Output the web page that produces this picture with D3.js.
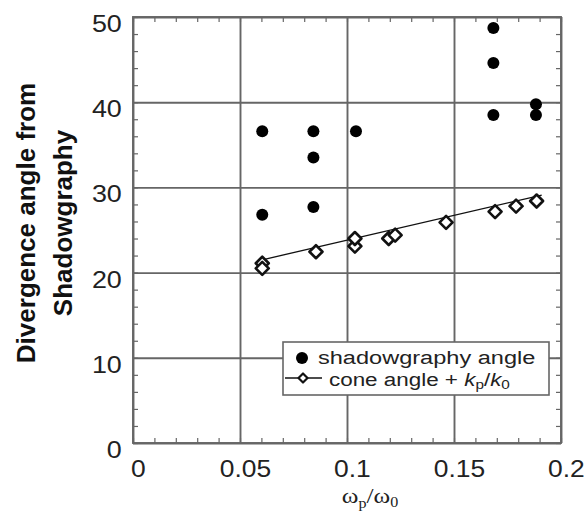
<!DOCTYPE html>
<html>
<head>
<meta charset="utf-8">
<script src="https://cdn.jsdelivr.net/npm/d3@7"></script>
<style>
  body { margin: 0; background: #fff; }
  svg { display: block; }
</style>
</head>
<body>
<svg id="chart" width="584" height="514"></svg>
<script>
// Axis ticks and labels
const xTicks = [0, 0.05, 0.1, 0.15, 0.2];
const xTickLabels = ["0", "0.05", "0.1", "0.15", "0.2"];
const yTicks = [0, 10, 20, 30, 40, 50];
const yTickLabels = ["0", "10", "20", "30", "40", "50"];

// Shadowgraphy angle measurements (filled circles)
const shadowX = [0.0604, 0.0843, 0.0843, 0.1042, 0.1684, 0.1684, 0.1684, 0.1883, 0.1883, 0.0604, 0.0843];
const shadowY = [36.6, 36.6, 33.5, 36.6, 48.7, 44.6, 38.5, 39.75, 38.5, 26.8, 27.7];

// Cone angle + kp/k0 (open diamonds)
const coneX = [0.0604, 0.0604, 0.0855, 0.1037, 0.1037, 0.1195, 0.1225, 0.1463, 0.1692, 0.179, 0.1886];
const coneY = [21.1, 20.5, 22.45, 23.1, 24.0, 24.0, 24.4, 25.9, 27.15, 27.8, 28.4];

// Straight-line fit through the cone-angle points
const fitX = [0.0604, 0.191];
const fitY = [21.5, 29.1];

const legendLabels = ["shadowgraphy angle", "cone angle + "];

const svg = d3.select("#chart");
const plotL = 133, plotR = 561, plotT = 17, plotB = 443;
const gridColor = "#666";

const x = d3.scaleLinear().domain([0, 0.2]).range([plotL, plotR]);
const y = d3.scaleLinear().domain([0, 50]).range([plotB, plotT]);

// Major grid + tick labels along x
const xAxis = svg.append("g")
  .attr("transform", `translate(0,${plotB})`)
  .call(d3.axisBottom(x).tickValues(xTicks)
    .tickFormat((d, i) => xTickLabels[i])
    .tickSize(-(plotB - plotT)));
xAxis.select(".domain").remove();
xAxis.selectAll(".tick line").attr("stroke", gridColor).attr("stroke-width", 1.9);
xAxis.selectAll(".tick text")
  .attr("y", 34.5).attr("dy", null).attr("x", 4.5)
  .attr("transform", "scale(1.1,1)")
  .attr("fill", "#222")
  .style("font-family", "'Liberation Sans', Arial, sans-serif")
  .style("font-size", "24px");

// Major grid + tick labels along y
const yAxis = svg.append("g")
  .attr("transform", `translate(${plotL},0)`)
  .call(d3.axisLeft(y).tickValues(yTicks)
    .tickFormat((d, i) => yTickLabels[i])
    .tickSize(-(plotR - plotL)));
yAxis.select(".domain").remove();
yAxis.selectAll(".tick line").attr("stroke", gridColor).attr("stroke-width", 1.9);
yAxis.selectAll(".tick text")
  .attr("x", -10).attr("y", 14.5).attr("dy", null)
  .attr("text-anchor", "end")
  .attr("transform", "scale(1.12,1)")
  .attr("fill", "#222")
  .style("font-family", "'Liberation Sans', Arial, sans-serif")
  .style("font-size", "24px");

// Plot frame
svg.append("rect")
  .attr("x", plotL).attr("y", plotT)
  .attr("width", plotR - plotL).attr("height", plotB - plotT)
  .attr("fill", "none").attr("stroke", gridColor).attr("stroke-width", 1.9);

// Inward minor ticks on all four sides
const xMinor = d3.range(0, 0.2001, 0.01);
const yMinor = d3.range(0, 50.01, 2);
const minorLen = -5;
function styleMinor(g) {
  g.select(".domain").remove();
  g.selectAll("text").remove();
  g.selectAll(".tick line").attr("stroke", gridColor).attr("stroke-width", 1.2);
}
svg.append("g").attr("transform", `translate(0,${plotB})`)
  .call(d3.axisBottom(x).tickValues(xMinor).tickSize(minorLen)).call(styleMinor);
svg.append("g").attr("transform", `translate(0,${plotT})`)
  .call(d3.axisTop(x).tickValues(xMinor).tickSize(minorLen)).call(styleMinor);
svg.append("g").attr("transform", `translate(${plotL},0)`)
  .call(d3.axisLeft(y).tickValues(yMinor).tickSize(minorLen)).call(styleMinor);
svg.append("g").attr("transform", `translate(${plotR},0)`)
  .call(d3.axisRight(y).tickValues(yMinor).tickSize(minorLen)).call(styleMinor);

// Fit line
svg.append("path")
  .datum(fitX.map((d, i) => [d, fitY[i]]))
  .attr("d", d3.line().x(d => x(d[0])).y(d => y(d[1])))
  .attr("fill", "none").attr("stroke", "#111").attr("stroke-width", 1.3);

// Diamond marker
const diamond = (r) => `M0,${-r}L${r},0L0,${r}L${-r},0Z`;

svg.append("g").selectAll("path")
  .data(coneX.map((d, i) => [d, coneY[i]]))
  .join("path")
  .attr("transform", d => `translate(${x(d[0])},${y(d[1])})`)
  .attr("d", diamond(6.5))
  .attr("fill", "#fff").attr("stroke", "#111")
  .attr("stroke-width", 2.6).attr("stroke-linejoin", "round");

svg.append("g").selectAll("circle")
  .data(shadowX.map((d, i) => [d, shadowY[i]]))
  .join("circle")
  .attr("cx", d => x(d[0])).attr("cy", d => y(d[1]))
  .attr("r", 6).attr("fill", "#000");

// Legend
const lg = svg.append("g");
lg.append("rect")
  .attr("x", 283).attr("y", 342).attr("width", 266).attr("height", 53)
  .attr("fill", "#fff").attr("stroke", gridColor).attr("stroke-width", 1.6);
lg.append("circle").attr("cx", 302).attr("cy", 358).attr("r", 6).attr("fill", "#000");
lg.append("line").attr("x1", 285).attr("x2", 322).attr("y1", 378).attr("y2", 378)
  .attr("stroke", "#111").attr("stroke-width", 1.3);
lg.append("path").attr("transform", "translate(303,378)").attr("d", diamond(4.5))
  .attr("fill", "#fff").attr("stroke", "#111").attr("stroke-width", 2.2)
  .attr("stroke-linejoin", "round");

const legendFont = "'Liberation Sans', Arial, sans-serif";
lg.append("text")
  .attr("transform", "translate(318,364) scale(1.24,1)")
  .attr("fill", "#222")
  .style("font-family", legendFont).style("font-size", "19px")
  .text(legendLabels[0]);
const t2 = lg.append("text")
  .attr("transform", "translate(329,386) scale(1.18,1)")
  .attr("fill", "#222")
  .style("font-family", legendFont).style("font-size", "19px");
t2.append("tspan").text(legendLabels[1]);
t2.append("tspan").attr("font-style", "italic").text("k");
t2.append("tspan").attr("font-size", "13px").attr("dy", 3).text("p");
t2.append("tspan").attr("dy", -3).text("/");
t2.append("tspan").attr("font-style", "italic").text("k");
t2.append("tspan").attr("font-size", "13px").attr("dy", 3).text("0");

// Y axis title
const yt = svg.append("text")
  .attr("transform", "translate(35,223) rotate(-90)")
  .attr("text-anchor", "middle")
  .attr("fill", "#111")
  .style("font-family", "'Liberation Sans', Arial, sans-serif")
  .style("font-size", "26px").style("font-weight", "bold");
yt.append("tspan").attr("x", 0).attr("y", 0).text("Divergence angle from");
yt.append("tspan").attr("x", 0).attr("y", 37).text("Shadowgraphy");

// X axis title: ωp/ω0
const xt = svg.append("text")
  .attr("transform", "translate(370,503) scale(1.15,1)")
  .attr("text-anchor", "middle")
  .attr("fill", "#222")
  .style("font-family", "'Liberation Serif', 'Times New Roman', serif")
  .style("font-size", "22px");
xt.append("tspan").text("ω");
xt.append("tspan").attr("font-size", "14px").attr("dy", 5).text("p");
xt.append("tspan").attr("dy", -5).text("/");
xt.append("tspan").text("ω");
xt.append("tspan").attr("font-size", "14px").attr("dy", 4).text("0");
</script>
</body>
</html>
